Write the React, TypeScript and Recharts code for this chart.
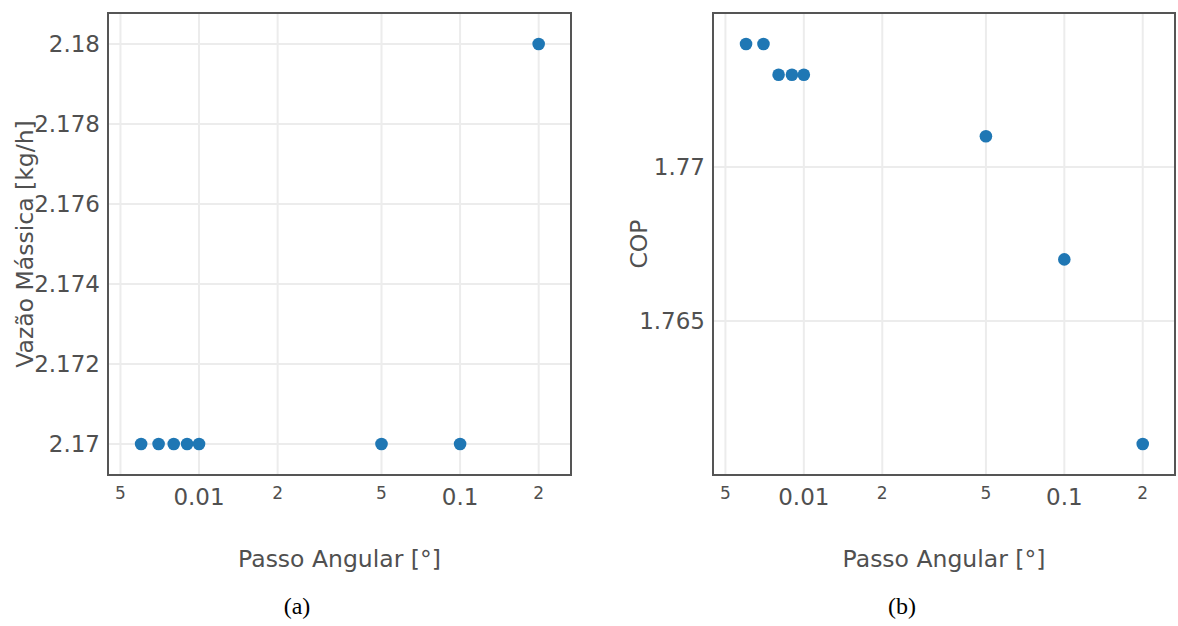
import React from 'react';
import {
  ScatterChart,
  Scatter,
  XAxis,
  YAxis,
  CartesianGrid,
  ReferenceArea,
  Label
} from 'recharts';

// passo angular [°] (log axis)
const passoAngular = [0.006, 0.007, 0.008, 0.009, 0.01, 0.05, 0.1, 0.2];
const vazaoMassica = [2.17, 2.17, 2.17, 2.17, 2.17, 2.17, 2.17, 2.18];
const cop = [1.774, 1.774, 1.773, 1.773, 1.773, 1.771, 1.767, 1.761];

const xTicks = [0.005, 0.01, 0.02, 0.05, 0.1, 0.2];
const xTickLabels = ['5', '0.01', '2', '5', '0.1', '2'];
const vazaoTicks = [2.17, 2.172, 2.174, 2.176, 2.178, 2.18];
const copTicks = [1.765, 1.77];

const xDomain: [number, number] = [0.00448, 0.266];
const vazaoDomain: [number, number] = [2.169225, 2.180775];
const copDomain: [number, number] = [1.759992, 1.775008];

const FONT = '"DejaVu Sans", Verdana, sans-serif';
const TEXT = '#505050';

const vazaoData = passoAngular.map((x, i) => ({ x, y: vazaoMassica[i] }));
const copData = passoAngular.map((x, i) => ({ x, y: cop[i] }));

const XTick = (props: any) => {
  const { x, y, payload } = props;
  const idx = xTicks.indexOf(payload.value);
  const label = idx >= 0 ? xTickLabels[idx] : String(payload.value);
  const major = label.startsWith('0.');
  return (
    <text
      x={x}
      y={y + (major ? 30 : 24)}
      textAnchor="middle"
      fontFamily={FONT}
      fontSize={major ? 23 : 17}
      fill={TEXT}
    >
      {label}
    </text>
  );
};

const YTick = (props: any) => {
  const { x, y, payload } = props;
  return (
    <text x={x} y={y + 8} textAnchor="end" fontFamily={FONT} fontSize={23} fill={TEXT}>
      {String(payload.value)}
    </text>
  );
};

const Dot = (props: any) => <circle cx={props.cx} cy={props.cy} r={6.3} fill="#1f77b4" />;

const xTitle = (props: any) => {
  const { x, y, width } = props.viewBox;
  return (
    <text x={x + width / 2} y={y + 92} textAnchor="middle" fontFamily={FONT} fontSize={23.5} fill={TEXT}>
      Passo Angular [°]
    </text>
  );
};

const yTitle = (text: string, bx: number) => (props: any) => {
  const { y, height } = props.viewBox;
  const cy = y + height / 2;
  return (
    <text
      x={bx}
      y={cy}
      textAnchor="middle"
      transform={`rotate(-90, ${bx}, ${cy})`}
      fontFamily={FONT}
      fontSize={23.5}
      fill={TEXT}
    >
      {text}
    </text>
  );
};

interface PanelProps {
  data: Array<{ x: number; y: number }>;
  yDomain: [number, number];
  yTicks: number[];
  yLabel: string;
  yLabelX: number;
  yAxisWidth: number;
  width: number;
  rightMargin: number;
}

const Panel: React.FC<PanelProps> = ({ data, yDomain, yTicks, yLabel, yLabelX, yAxisWidth, width, rightMargin }) => (
  <ScatterChart width={width} height={626} margin={{ top: 13, right: rightMargin, left: 0, bottom: 0 }}>
    <CartesianGrid stroke="#ececec" strokeWidth={2} />
    <XAxis
      type="number"
      dataKey="x"
      scale="log"
      domain={xDomain}
      allowDataOverflow
      ticks={xTicks}
      tick={<XTick />}
      tickSize={0}
      tickMargin={0}
      axisLine={false}
      tickLine={false}
      height={151}
      interval={0}
    >
      <Label content={xTitle} />
    </XAxis>
    <YAxis
      type="number"
      dataKey="y"
      domain={yDomain}
      allowDataOverflow
      ticks={yTicks}
      tick={<YTick />}
      tickSize={0}
      tickMargin={8}
      axisLine={false}
      tickLine={false}
      width={yAxisWidth}
      interval={0}
    >
      <Label content={yTitle(yLabel, yLabelX)} />
    </YAxis>
    <Scatter data={data} shape={<Dot />} isAnimationActive={false} />
    <ReferenceArea
      x1={xDomain[0]}
      x2={xDomain[1]}
      y1={yDomain[0]}
      y2={yDomain[1]}
      fill="none"
      fillOpacity={0}
      stroke="#555"
      strokeWidth={2}
      ifOverflow="visible"
    />
  </ScatterChart>
);

const captionStyle: React.CSSProperties = {
  position: 'absolute',
  top: 594,
  width: 80,
  textAlign: 'center',
  fontFamily: '"Liberation Serif", "Times New Roman", serif',
  fontSize: 24,
  lineHeight: '24px',
  color: '#000'
};

const App: React.FC = () => {
  return (
    <div style={{ position: 'absolute', left: 0, top: 0, width: 1178, height: 626, background: '#fff' }}>
      <div style={{ position: 'absolute', left: 0, top: 0 }}>
        <Panel
          data={vazaoData}
          yDomain={vazaoDomain}
          yTicks={vazaoTicks}
          yLabel="Vazão Mássica [kg/h]"
          yLabelX={33}
          yAxisWidth={108}
          width={590}
          rightMargin={19}
        />
      </div>
      <div style={{ position: 'absolute', left: 590, top: 0 }}>
        <Panel
          data={copData}
          yDomain={copDomain}
          yTicks={copTicks}
          yLabel="COP"
          yLabelX={57}
          yAxisWidth={123}
          width={588}
          rightMargin={3}
        />
      </div>
      <div style={{ ...captionStyle, left: 257 }}>(a)</div>
      <div style={{ ...captionStyle, left: 862 }}>(b)</div>
    </div>
  );
};

export default App;
